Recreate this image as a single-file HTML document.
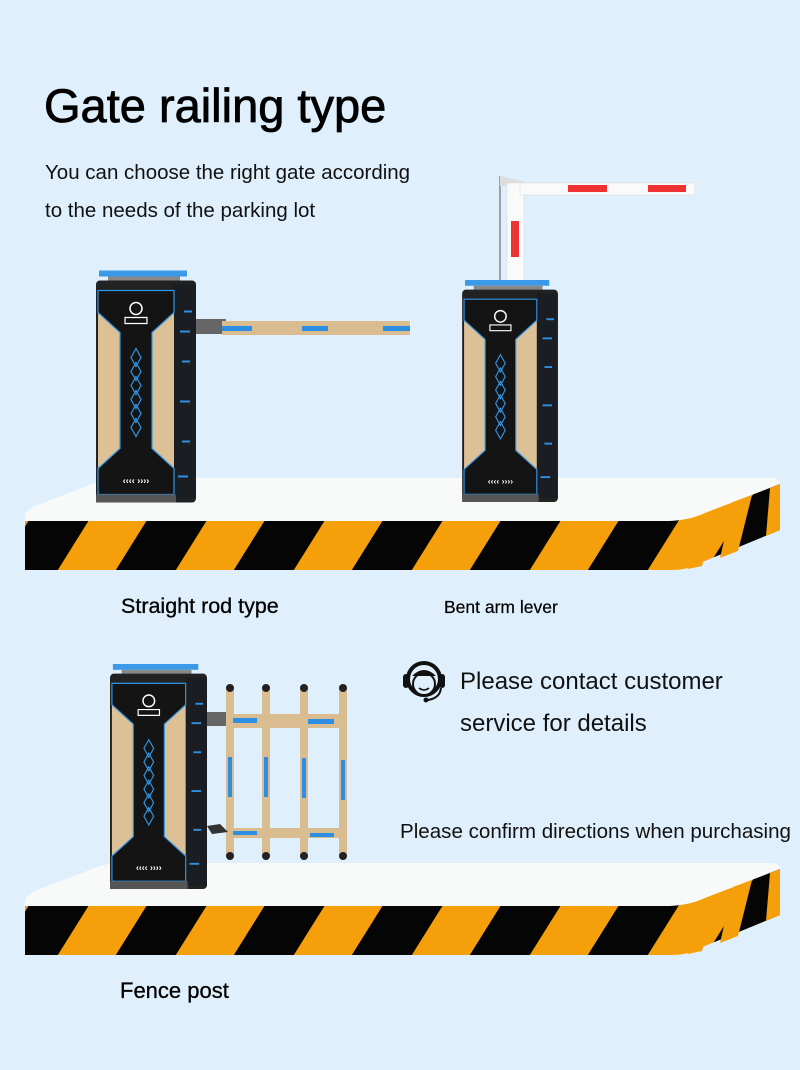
<!DOCTYPE html>
<html><head><meta charset="utf-8"><style>
html,body{margin:0;padding:0;background:#dff0fc;}
svg{display:block;}
</style></head><body>
<svg width="800" height="1070" viewBox="0 0 800 1070" xmlns="http://www.w3.org/2000/svg" font-family="Liberation Sans, Arial, sans-serif">
<defs>
<pattern id="st" width="118" height="60" patternUnits="userSpaceOnUse" patternTransform="skewX(-32)">
<rect width="118" height="60" fill="#f59f0a"/><rect x="0" width="60" height="60" fill="#050505"/>
</pattern>
<symbol id="cab" viewBox="0 0 100 232" width="100" height="232">
<rect x="3" y="0" width="88" height="6" fill="#3a9ae8"/>
<rect x="12" y="6" width="72" height="6" fill="#888"/>
<rect x="0" y="10" width="100" height="222" rx="4" fill="#222"/>
<rect x="78" y="14" width="22" height="214" fill="#1a1d22"/>
<g fill="#2e90e0"><rect x="88" y="40" width="8" height="2"/><rect x="84" y="60" width="10" height="2"/><rect x="86" y="90" width="8" height="2"/><rect x="84" y="130" width="10" height="2"/><rect x="86" y="170" width="8" height="2"/><rect x="82" y="205" width="10" height="2"/></g>
<rect x="2" y="20" width="76" height="204" fill="#dcc196"/>
<path d="M2 20 H78 V42 L56 62 V178 L78 198 V224 H2 V198 L24 178 V62 L2 42 Z" fill="#141414" stroke="#2f95e6" stroke-width="1.2"/>
<rect x="0" y="224" width="80" height="8" fill="#555"/>
<circle cx="40" cy="38" r="6" fill="none" stroke="#fff" stroke-width="1.5"/>
<path d="M29 53 V47 H51 V53 Z" fill="none" stroke="#fff" stroke-width="1.2"/>
<path d="M40 78 l5 9 l-5 9 l-5 -9 Z M40 92 l5 9 l-5 9 l-5 -9 Z M40 106 l5 9 l-5 9 l-5 -9 Z M40 120 l5 9 l-5 9 l-5 -9 Z M40 134 l5 9 l-5 9 l-5 -9 Z M40 148 l5 9 l-5 9 l-5 -9 Z" fill="none" stroke="#2f95e6" stroke-width="1.2"/>
<text x="40" y="213" font-size="9" fill="#fff" text-anchor="middle" font-weight="bold">‹‹‹‹ ››››</text>
</symbol>
<g id="plat">
<path d="M25 515 Q28 508 40 504 L100 481 Q110 478 130 478 L770 478 Q780 478 780 484 L780 530 Q740 545 690 568 Q680 570 660 570 L25 570 Z" fill="#f8f9f9"/>
<path d="M25 521 L670 521 Q690 520 705 513 L780 484 L780 530 L700 563 Q690 570 670 570 L25 570 Z" fill="url(#st)"/>
<path d="M703 514 L718 508 L702 566 L688 569 Z" fill="#f59f0a"/>
<path d="M733 502 L752 495 L738 551 L720 558 Z" fill="#f59f0a"/>
<path d="M770 488 L780 484 L780 530 L766 536 Z" fill="#f59f0a"/>
</g>
</defs>

<text x="44" y="122" font-size="47" fill="#000" stroke="#000" stroke-width="0.8">Gate railing type</text>
<text x="45" y="179" font-size="20.5" fill="#111">You can choose the right gate according</text>
<text x="45" y="217" font-size="20.5" fill="#111">to the needs of the parking lot</text>

<use href="#plat"/>
<use href="#plat" y="385"/>

<!-- straight arm -->
<rect x="196" y="319" width="30" height="15" fill="#666"/>
<rect x="222" y="321" width="188" height="14" fill="#d9bd90"/>
<rect x="222" y="326" width="30" height="5" fill="#2d8fe4"/><rect x="302" y="326" width="26" height="5" fill="#2d8fe4"/><rect x="383" y="326" width="27" height="5" fill="#2d8fe4"/>
<use href="#cab" x="96" y="265" width="100" height="243"/>

<!-- bent arm -->
<line x1="500" y1="176" x2="500" y2="282" stroke="#888" stroke-width="1.5"/>
<path d="M500 176 L530 183 L500 186 Z" fill="#ddd"/>
<rect x="507" y="183" width="17" height="100" fill="#fafafa" stroke="#ddd" stroke-width="0.6"/>
<rect x="520" y="183" width="175" height="12" fill="#fafafa" stroke="#ddd" stroke-width="0.6"/>
<rect x="568" y="185" width="39" height="7" fill="#ef3131"/><rect x="648" y="185" width="38" height="7" fill="#ef3131"/>
<rect x="511" y="221" width="8" height="36" fill="#ef3131"/>
<use href="#cab" x="462" y="280" width="96" height="222"/>

<!-- fence -->
<rect x="207" y="712" width="25" height="14" fill="#666"/>
<g fill="#d9bd90">
<rect x="226" y="688" width="8" height="168"/><rect x="262" y="688" width="8" height="168"/><rect x="300" y="688" width="8" height="168"/><rect x="339" y="688" width="8" height="168"/>
<rect x="230" y="714" width="117" height="14"/><rect x="230" y="828" width="117" height="10"/>
</g>
<g fill="#2d8fe4">
<rect x="233" y="718" width="24" height="5"/><rect x="308" y="719" width="26" height="5"/><rect x="233" y="831" width="24" height="4"/><rect x="310" y="833" width="24" height="4"/>
<rect x="228" y="757" width="4" height="40"/><rect x="264" y="757" width="4" height="40"/><rect x="302" y="758" width="4" height="40"/><rect x="341" y="760" width="4" height="40"/>
</g>
<g fill="#222"><circle cx="230" cy="688" r="4"/><circle cx="266" cy="688" r="4"/><circle cx="304" cy="688" r="4"/><circle cx="343" cy="688" r="4"/>
<circle cx="230" cy="856" r="4"/><circle cx="266" cy="856" r="4"/><circle cx="304" cy="856" r="4"/><circle cx="343" cy="856" r="4"/></g>
<path d="M207 826 L220 824 L228 832 L212 834 Z" fill="#333"/>
<use href="#cab" x="110" y="660" width="97" height="233"/>

<text x="121" y="613" font-size="21.5" fill="#000" stroke="#000" stroke-width="0.3">Straight rod type</text>
<text x="444" y="613" font-size="17.5" fill="#000" stroke="#000" stroke-width="0.2">Bent arm lever</text>
<text x="120" y="998" font-size="22" fill="#000" stroke="#000" stroke-width="0.3">Fence post</text>

<!-- headset icon -->
<g>
<circle cx="424" cy="679" r="16" fill="none" stroke="#111" stroke-width="4"/>
<circle cx="424" cy="684" r="11" fill="#dff0fc" stroke="#111" stroke-width="2"/>
<path d="M412 676 Q424 664 436 676 Z" fill="#111"/>
<rect x="403" y="674" width="6" height="14" rx="3" fill="#111"/><rect x="439" y="674" width="6" height="14" rx="3" fill="#111"/>
<path d="M441 688 Q440 698 428 700" fill="none" stroke="#111" stroke-width="2"/>
<circle cx="426" cy="700" r="2.5" fill="#111"/>
<path d="M419 688 Q424 692 429 688" fill="none" stroke="#111" stroke-width="1.5"/>
</g>
<text x="460" y="689" font-size="24" fill="#111">Please contact customer</text>
<text x="460" y="731" font-size="24" fill="#111">service for details</text>
<text x="400" y="838" font-size="20" fill="#111" font-family="Liberation Sans Narrow, Liberation Sans, sans-serif" textLength="391" lengthAdjust="spacingAndGlyphs">Please confirm directions when purchasing</text>
</svg>
</body></html>
